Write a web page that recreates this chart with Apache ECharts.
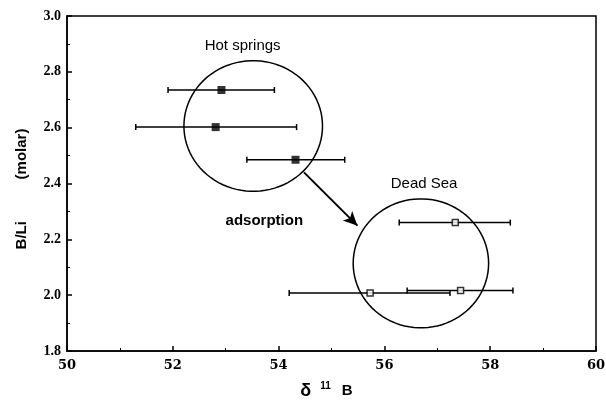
<!DOCTYPE html>
<html><head><meta charset="utf-8">
<script src="https://cdn.jsdelivr.net/npm/echarts@6/dist/echarts.min.js"></script>
<style>html,body{margin:0;padding:0;background:#fff}#c{width:606px;height:400px}</style>
</head><body><div id="c"></div>
<script>
// Hot springs: [d11B, B/Li, errLow, errHigh]
var hotSprings = [[52.92, 2.735, 51.91, 53.92],[52.81, 2.602, 51.30, 54.34],[54.32, 2.485, 53.40, 55.25]];
// Dead Sea
var deadSea = [[57.34, 2.260, 56.28, 58.38],[55.73, 2.008, 54.20, 57.24],[57.44, 2.017, 56.43, 58.43]];
// grouping circles: [cx, cy, rx, ry]
var circles = [[53.52, 2.606, 1.31, 0.234],[56.69, 2.114, 1.28, 0.231]];
// arrow: from, to
var arrowFrom = [54.48, 2.440];
var arrowTo = [55.49, 2.249];
// annotations: [x, y, text, bold]
var annotations = [[53.32, 2.893, 'Hot springs', 0],[56.75, 2.400, 'Dead Sea', 0],[53.73, 2.267, 'adsorption', 1]];
var xTicks = {min: 50, max: 60, interval: 2};
var yTicks = {min: 1.8, max: 3.0, interval: 0.2};

var chart = echarts.init(document.getElementById('c'));
function errRender(params, api) {
  var y = api.value(1);
  var a = api.coord([api.value(2), y]);
  var b = api.coord([api.value(3), y]);
  var st = {stroke: '#000', lineWidth: 1.5};
  return {type: 'group', children: [
    {type: 'line', shape: {x1: a[0], y1: a[1], x2: b[0], y2: b[1]}, style: st},
    {type: 'line', shape: {x1: a[0], y1: a[1] - 3, x2: a[0], y2: a[1] + 3}, style: st},
    {type: 'line', shape: {x1: b[0], y1: b[1] - 3, x2: b[0], y2: b[1] + 3}, style: st}
  ]};
}
function circleRender(params, api) {
  var cx = api.value(0), cy = api.value(1), rx = api.value(2), ry = api.value(3);
  var pts = [];
  for (var i = 0; i <= 90; i++) {
    var t = i / 90 * Math.PI * 2;
    pts.push(api.coord([cx + rx * Math.cos(t), cy + ry * Math.sin(t)]));
  }
  return {type: 'polyline', shape: {points: pts}, style: {stroke: '#000', lineWidth: 1.5, fill: null}};
}
function textRender(params, api) {
  var p = api.coord([api.value(0), api.value(1)]);
  var d = annotations[params.dataIndex];
  return {type: 'text', x: p[0], y: p[1], style: {text: d[2], fill: '#000', align: 'center', verticalAlign: 'middle',
    font: (d[3] ? 'bold ' : '') + '15px "Liberation Sans", Arial, sans-serif'}};
}
chart.setOption({
  animation: false,
  grid: {left: 67, right: 10, top: 16, bottom: 49, show: true, borderColor: '#000', borderWidth: 1.5,
    containLabel: false, outerBoundsMode: 'none'},
  xAxis: {type: 'value', min: xTicks.min, max: xTicks.max, interval: xTicks.interval,
    axisLine: {lineStyle: {color: '#000', width: 1.5}},
    axisTick: {inside: true, length: 5, lineStyle: {color: '#000', width: 1.5}},
    minorTick: {show: true, splitNumber: 2, length: 3, lineStyle: {color: '#000', width: 1}},
    splitLine: {show: false},
    axisLabel: {color: '#000', fontFamily: '"DejaVu Serif", serif', fontWeight: 'bold', fontSize: 13, margin: 8},
    name: '{d|δ}{s|11}{b|B}', nameLocation: 'middle', nameGap: 30,
    nameTextStyle: {padding: [0, 10, 0, 0], rich: {
      d: {fontFamily: '"Liberation Sans", sans-serif', fontWeight: 'bold', fontSize: 18, color: '#000', padding: [0, 9, 0, 0]},
      s: {fontFamily: '"Liberation Sans", sans-serif', fontWeight: 'bold', fontSize: 10, color: '#000', verticalAlign: 'top', padding: [0, 11, 10, 0]},
      b: {fontFamily: '"Liberation Sans", sans-serif', fontWeight: 'bold', fontSize: 15, color: '#000'}}}
  },
  yAxis: {type: 'value', min: yTicks.min, max: yTicks.max, interval: yTicks.interval,
    axisLine: {show: true, lineStyle: {color: '#000', width: 1.5}},
    axisTick: {show: true, inside: true, length: 5, lineStyle: {color: '#000', width: 1.5}},
    minorTick: {show: true, splitNumber: 2, length: 3, lineStyle: {color: '#000', width: 1}},
    splitLine: {show: false},
    axisLabel: {color: '#000', fontFamily: '"Liberation Serif", "Times New Roman", serif', fontWeight: 'bold', fontSize: 14, margin: 6,
      formatter: function (v) { return v.toFixed(1); }},
    name: 'B/Li          (molar)', nameLocation: 'middle', nameGap: 38,
    nameTextStyle: {color: '#000', fontFamily: '"Liberation Sans", sans-serif', fontWeight: 'bold', fontSize: 15, padding: [0, 11, 0, 0]}
  },
  series: [
    {type: 'custom', renderItem: circleRender, data: circles, silent: true, z: 1},
    {type: 'custom', renderItem: errRender, data: hotSprings.concat(deadSea), z: 2},
    {type: 'scatter', data: hotSprings.map(function (d) { return [d[0], d[1]]; }), symbol: 'rect', symbolSize: 8,
      itemStyle: {color: '#000'}, z: 3},
    {type: 'scatter', data: deadSea.map(function (d) { return [d[0], d[1]]; }), symbol: 'rect', symbolSize: 6,
      itemStyle: {color: '#fff', borderColor: '#000', borderWidth: 1.5}, z: 3,
      markLine: {silent: true, symbol: ['none', 'arrow'], symbolSize: [10, 14], label: {show: false},
        lineStyle: {color: '#000', width: 2, type: 'solid'},
        data: [[{coord: arrowFrom}, {coord: arrowTo}]]}},
    {type: 'custom', renderItem: textRender, data: annotations.map(function (a) { return [a[0], a[1]]; }), z: 4}
  ]
});
</script></body></html>
